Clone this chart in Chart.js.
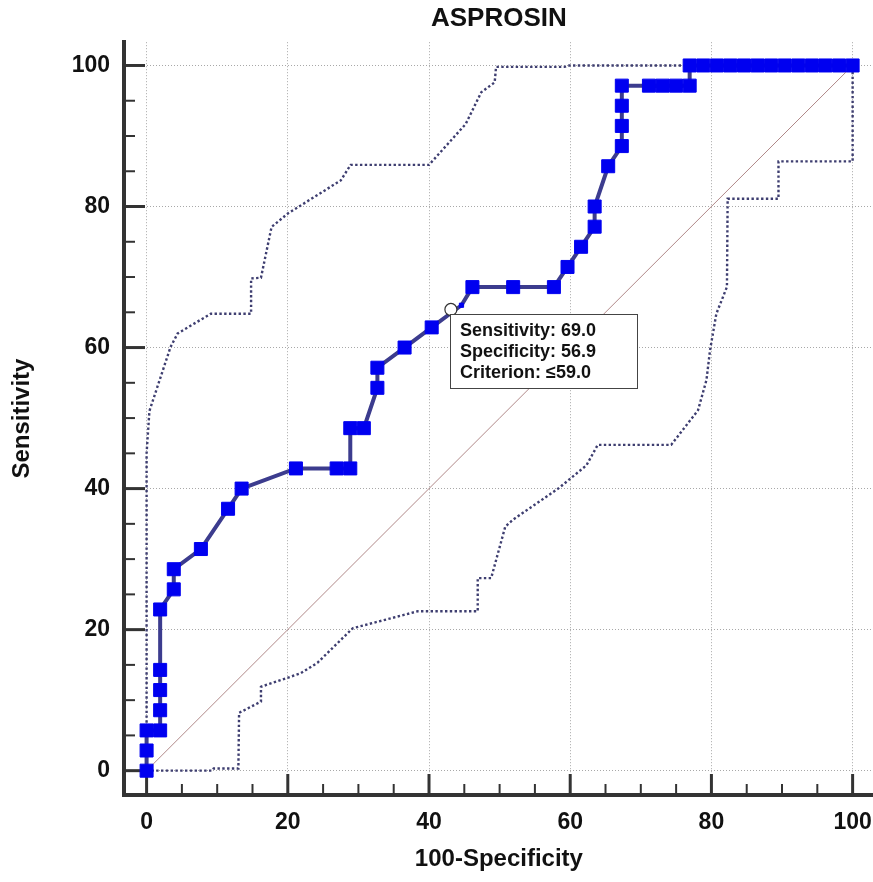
<!DOCTYPE html>
<html>
<head>
<meta charset="utf-8">
<title>ASPROSIN ROC</title>
<script src="https://cdn.jsdelivr.net/npm/chart.js@4.4.1/dist/chart.umd.min.js"></script>
<style>
  html, body { margin: 0; padding: 0; background: #fff; overflow: hidden; }
  /* a bit wider than the window: the plot runs off the right edge like the original */
  #wrap { width: 884px; height: 882px; position: relative; }
</style>
</head>
<body>
<div id="wrap"><canvas id="roc"></canvas></div>
<script>
// ROC curve (100-Specificity vs Sensitivity)
const rocFpr = [0, 0, 0, 1.92, 1.92, 1.92, 1.92, 1.92, 3.85, 3.85, 7.69, 11.54, 13.46, 21.15, 26.92, 28.85, 28.85, 30.77,
  32.69, 32.69, 36.54, 40.38, 44.6, 46.15, 51.92, 57.69, 59.62, 61.54, 63.46, 63.46, 65.38, 67.31, 67.31, 67.31, 67.31,
  71.15, 73.08, 75, 76.92, 76.92, 78.85, 80.77, 82.69, 84.62, 86.54, 88.46, 90.38, 92.31, 94.23, 96.15, 98.08, 100];
const rocTpr = [0, 2.86, 5.71, 5.71, 8.57, 11.43, 14.29, 22.86, 25.71, 28.57, 31.43, 37.14, 40, 42.86, 42.86, 42.86, 48.57, 48.57,
  54.29, 57.14, 60, 62.86, 66.0, 68.57, 68.57, 68.57, 71.43, 74.29, 77.14, 80, 85.71, 88.57, 91.43, 94.29, 97.14,
  97.14, 97.14, 97.14, 97.14, 100, 100, 100, 100, 100, 100, 100, 100, 100, 100, 100, 100, 100];

// confidence bounds (dotted)
const upperX = [0, 0, 0.4, 3.4, 4.4, 9.1, 14.8, 14.8, 16.2, 17.7, 20, 27.5, 28.9, 40, 45.2, 47.4, 49.3, 49.5, 59.2, 59.7, 100];
const upperY = [0, 45, 51, 60.1, 62, 64.8, 64.8, 69.8, 69.9, 77.1, 79, 83.7, 85.9, 85.9, 91.7, 96.2, 97.6, 99.8, 99.8, 100, 100];
const lowerX = [0, 9.3, 9.5, 13, 13.1, 16.2, 16.2, 21.8, 24.2, 29.2, 38.4, 46.9, 46.9, 48.8, 50.8, 51.9, 58.3, 62.3, 63.9,
  74.3, 78.1, 79.3, 79.8, 80.7, 82.2, 82.3, 89.5, 89.5, 100, 100];
const lowerY = [0, 0, 0.3, 0.3, 8.2, 9.8, 11.9, 13.8, 15.3, 20.2, 22.6, 22.6, 27.3, 27.3, 34.6, 35.6, 40, 43.3, 46.2,
  46.2, 51.1, 55.4, 59.6, 64.8, 68.6, 81.1, 81.1, 86.4, 86.4, 100];

// reference diagonal
const diagX = [0, 100];
const diagY = [0, 100];

// criterion point + its label
const criterionX = [43.1];
const criterionY = [65.4];
const boxLines = ['Sensitivity: 69.0', 'Specificity: 56.9', 'Criterion: \u226459.0'];

const tickVals = [0, 20, 40, 60, 80, 100];

const toPts = (xs, ys) => xs.map((v, i) => ({ x: v, y: ys[i] }));
const FONT = "'Liberation Sans', Arial, sans-serif";
Chart.defaults.font.family = FONT;
Chart.defaults.color = '#111';

// ticks pointing into the plot, majors every 20, minors every 5
const innerTicks = {
  id: 'innerTicks',
  beforeDatasetsDraw(chart) {
    const { ctx, chartArea, scales: { x, y } } = chart;
    ctx.save();
    ctx.strokeStyle = '#333';
    for (let v = 0; v <= 100; v += 5) {
      const major = v % 20 === 0;
      const len = major ? 21 : 11;
      ctx.lineWidth = major ? 3 : 2;
      const px = x.getPixelForValue(v);
      ctx.beginPath();
      ctx.moveTo(px, chartArea.bottom);
      ctx.lineTo(px, chartArea.bottom - len);
      ctx.stroke();
      const py = y.getPixelForValue(v);
      ctx.beginPath();
      ctx.moveTo(chartArea.left, py);
      ctx.lineTo(chartArea.left + len, py);
      ctx.stroke();
    }
    ctx.restore();
  }
};

const criterionBox = {
  id: 'criterionBox',
  afterDatasetsDraw(chart) {
    const { ctx, scales: { x, y } } = chart;
    const px = x.getPixelForValue(criterionX[0]);
    const py = y.getPixelForValue(criterionY[0]);
    const left = Math.round(px) - 1, top = Math.round(py) + 5, w = 187, h = 74;
    ctx.save();
    ctx.fillStyle = '#fff';
    ctx.fillRect(left, top, w, h);
    ctx.strokeStyle = '#444';
    ctx.lineWidth = 1;
    ctx.strokeRect(left + 0.5, top + 0.5, w, h);
    ctx.fillStyle = '#111';
    ctx.font = 'bold 18px ' + FONT;
    ctx.textBaseline = 'middle';
    boxLines.forEach((t, i) => ctx.fillText(t, left + 10, top + 17 + i * 21));
    ctx.restore();
  }
};

const noPad = (s) => { s.paddingLeft = 0; s.paddingRight = 0; s.paddingTop = 0; s.paddingBottom = 0; };

new Chart(document.getElementById('roc'), {
  type: 'scatter',
  data: {
    datasets: [
      {
        data: toPts(criterionX, criterionY),
        order: 0,
        pointStyle: 'circle',
        pointRadius: 6,
        pointBackgroundColor: '#fff',
        pointBorderColor: '#333',
        pointBorderWidth: 1.2
      },
      {
        data: toPts(rocFpr, rocTpr),
        order: 1,
        showLine: true,
        borderColor: '#3c3c8e',
        borderWidth: 4,
        pointStyle: 'rect',
        pointRadius: (c) => c.dataIndex === 22 ? 3 : 9.2,
        pointBackgroundColor: '#0000f0',
        pointBorderColor: '#0000f0',
        pointBorderWidth: 1
      },
      {
        data: toPts(diagX, diagY),
        order: 2,
        showLine: true,
        borderColor: '#b08888',
        borderWidth: 1,
        pointRadius: 0
      },
      {
        data: toPts(upperX, upperY),
        order: 3,
        showLine: true,
        borderColor: '#3e3e70',
        borderWidth: 2.4,
        borderDash: [2.4, 2.4],
        pointRadius: 0
      },
      {
        data: toPts(lowerX, lowerY),
        order: 3,
        showLine: true,
        borderColor: '#3e3e70',
        borderWidth: 2.4,
        borderDash: [2.4, 2.4],
        pointRadius: 0
      }
    ]
  },
  options: {
    responsive: true,
    maintainAspectRatio: false,
    animation: false,
    layout: { padding: 0 },
    plugins: {
      legend: { display: false },
      tooltip: { enabled: false },
      title: {
        display: true,
        text: 'ASPROSIN',
        fullSize: false,
        font: { size: 26, weight: 'bold' },
        padding: { top: 3, bottom: 8 },
        color: '#111'
      }
    },
    scales: {
      x: {
        type: 'linear',
        min: -3.2,
        max: 103.0,
        afterBuildTicks: (axis) => { axis.ticks = tickVals.map(v => ({ value: v })); },
        afterFit: (s) => { s.height = 87; noPad(s); },
        grid: { color: '#a8a8a8', lineWidth: 1, drawTicks: false },
        border: { display: true, color: '#333', width: 4, dash: [1, 2] },
        ticks: { font: { size: 23, weight: 'bold' }, padding: 14, maxRotation: 0 },
        title: {
          display: true,
          text: '100-Specificity',
          font: { size: 24, weight: 'bold' },
          padding: { top: 0, bottom: 8 }
        }
      },
      y: {
        type: 'linear',
        min: -3.45,
        max: 103.3,
        afterBuildTicks: (axis) => { axis.ticks = tickVals.map(v => ({ value: v })); },
        afterFit: (s) => { s.width = 124; noPad(s); },
        grid: { color: '#a8a8a8', lineWidth: 1, drawTicks: false },
        border: { display: true, color: '#333', width: 4, dash: [1, 2] },
        ticks: { font: { size: 23, weight: 'bold' }, padding: 14 },
        title: {
          display: true,
          text: 'Sensitivity',
          font: { size: 24, weight: 'bold' },
          padding: { top: 8, bottom: 0 }
        }
      }
    }
  },
  plugins: [innerTicks, criterionBox]
});
</script>
</body>
</html>
